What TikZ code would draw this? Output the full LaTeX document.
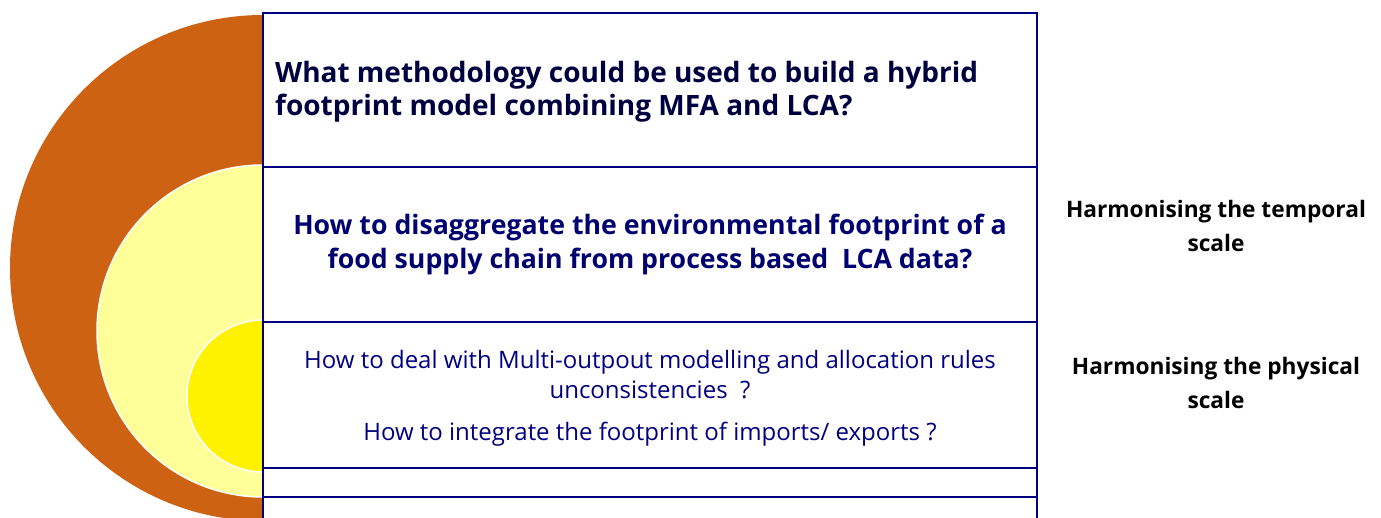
\documentclass[tikz,border=0pt]{standalone}
\usepackage{fontspec}
\setmainfont{Open Sans}
\usetikzlibrary{positioning}
\definecolor{rust}{RGB}{204,98,18}
\definecolor{paleyellow}{RGB}{255,255,153}
\definecolor{navyline}{RGB}{0,0,128}
\definecolor{darknavy}{RGB}{0,0,64}
\definecolor{navytext}{RGB}{0,0,112}

\begin{document}
\begin{tikzpicture}[x=1pt,y=-1pt,
  qbox/.style={draw=navyline,line width=2.5pt},
  ring/.style={draw=white,line width=1.5pt},
  bigq/.style={inner sep=0pt,font=\bfseries\fontsize{28}{33}\selectfont,text=darknavy},
  midq/.style={inner sep=0pt,font=\bfseries\fontsize{26.7}{34}\selectfont,text=navytext},
  smallq/.style={inner sep=0pt,font=\fontsize{24}{30}\selectfont,text=navyline},
  scalelabel/.style={inner sep=0pt,align=center,font=\bfseries\fontsize{22.7}{34}\selectfont}]
\useasboundingbox (0,0) rectangle (1381,518);
% half discs
\begin{scope}
  \clip (0,0) rectangle (263,518);
  \fill[rust] (263,268) circle[radius=253];
  \draw[ring,fill=paleyellow] (263,331) circle[radius=166];
  \draw[ring,fill=yellow] (263,396) circle[radius=76];
\end{scope}
% boxes
\draw[qbox] (263,13) rectangle (1037,167);
\draw[qbox] (263,167) rectangle (1037,322);
\draw[qbox] (263,322) rectangle (1037,468);
\draw[qbox] (263,468) rectangle (1037,497);
\draw[qbox] (263,497) rectangle (1037,540);
% questions
\node[bigq,anchor=base west,align=left] (hybrid) at (275,116)
  {What methodology could be used to build a hybrid\\footprint model combining MFA and LCA?};
\node[midq,anchor=base,align=center] (disagg) at (650,269)
  {How to disaggregate the environmental footprint of a\\food supply chain from process based\ \ LCA data?};
\node[smallq,anchor=base,align=center] (multi) at (650,399)
  {How to deal with Multi-outpout modelling and allocation rules\\unconsistencies\ \ ?};
\node[smallq,anchor=base] (imports) at (650,440)
  {How to integrate the footprint of imports/ exports ?};
% side labels
\node[scalelabel,anchor=base] (temporal) at (1216,252) {Harmonising the temporal\\scale};
\node[scalelabel,anchor=base] (physical) at (1216,408) {Harmonising the physical\\scale};
\end{tikzpicture}
\end{document}
